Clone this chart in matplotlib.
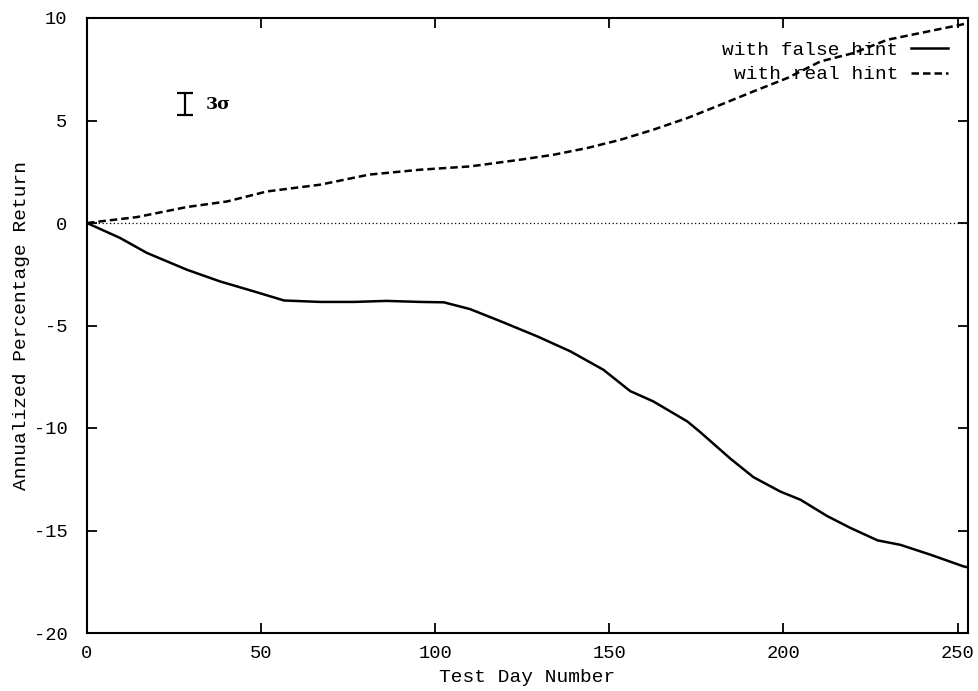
import matplotlib
matplotlib.use('Agg')
import matplotlib.pyplot as plt

plt.rcParams['font.family'] = ['Liberation Mono', 'DejaVu Sans Mono']
plt.rcParams['axes.unicode_minus'] = False

real_x = [0, 14.4, 28.7, 40.2, 51.7, 67, 81, 95.7, 110, 124.5, 134, 143.7, 153.2,
          162.6, 172.4, 182, 191.4, 201.1, 210.6, 220.1, 229.9, 239.4, 250.9, 253]
real_y = [0, 0.29, 0.78, 1.05, 1.54, 1.87, 2.36, 2.6, 2.76, 3.09, 3.33, 3.66, 4.06,
          4.55, 5.12, 5.77, 6.42, 7.07, 7.88, 8.29, 8.94, 9.27, 9.67, 9.75]

false_x = [0, 9.5, 17.2, 28.7, 38.2, 48, 56.6, 67, 76.7, 86, 95.7, 102.5, 110, 119.6,
           129.3, 138.8, 148.3, 156, 162.6, 172.4, 176.1, 184.8, 191.4, 199.1, 204.9,
           212.6, 219.3, 227, 233.6, 242.2, 251.7, 253]
false_y = [0, -0.73, -1.46, -2.28, -2.85, -3.34, -3.78, -3.85, -3.85, -3.8, -3.85, -3.87,
           -4.2, -4.85, -5.53, -6.26, -7.16, -8.2, -8.7, -9.68, -10.2, -11.5, -12.4, -13.1,
           -13.5, -14.3, -14.88, -15.48, -15.7, -16.18, -16.75, -16.8]

sigma_x = 28
sigma_y = 5.8
sigma_half = 0.53

fig = plt.figure(figsize=(9.79, 6.91), dpi=100)
ax = fig.add_axes([87/979, 1-633/691, 881/979, 615/691])

ax.axhline(0, color='black', lw=0.9, ls=(0, (1, 2)))
ax.plot(false_x, false_y, color='black', lw=1.8, label='with false hint')
ax.plot(real_x, real_y, color='black', lw=1.8, ls=(0, (3, 1.6)), label='with real hint')

ax.errorbar([sigma_x], [sigma_y], yerr=[sigma_half], color='black', lw=1.6,
            capsize=6, capthick=1.6)
ax.text(sigma_x + 6, sigma_y, '3σ', fontsize=12.5, fontweight='bold',
        family=['DejaVu Serif'], va='center', ha='left')

ax.set_xlim(0, 253)
ax.set_ylim(-20, 10)
ax.set_xticks([0, 50, 100, 150, 200, 250])
ax.set_yticks([-20, -15, -10, -5, 0, 5, 10])
ax.tick_params(direction='in', length=7, width=1.3, top=True, right=True,
               labelsize=13.5)
ax.tick_params(axis='x', pad=9)
ax.tick_params(axis='y', pad=14)
for s in ax.spines.values():
    s.set_linewidth(1.5)

ax.set_xlabel('Test Day Number', fontsize=14, labelpad=5)
ax.set_ylabel('Annualized Percentage Return', fontsize=14, labelpad=3)

ax.legend(loc='upper right', bbox_to_anchor=(0.977, 0.962), frameon=False,
          markerfirst=False, fontsize=14, handlelength=1.9, handletextpad=0.65,
          borderpad=0, borderaxespad=0, labelspacing=0.35)

fig.savefig('out.png', dpi=100)
